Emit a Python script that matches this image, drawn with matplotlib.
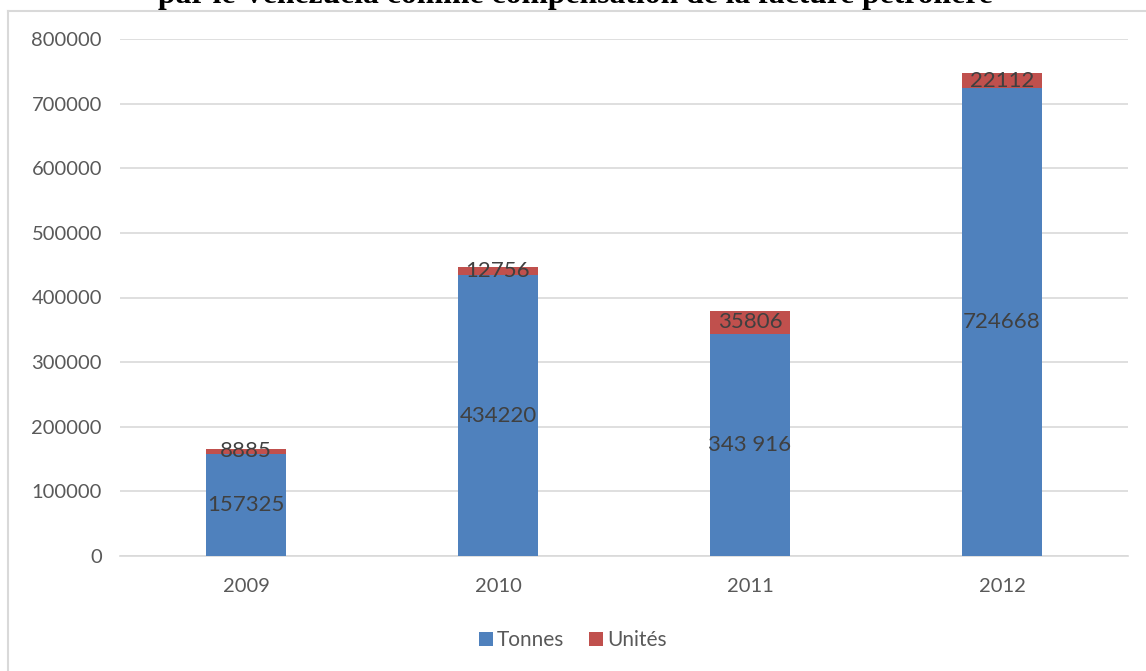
import matplotlib.pyplot as plt
from matplotlib.lines import Line2D

# Chart data
years = ["2009", "2010", "2011", "2012"]
tonnes = [157325, 434220, 343916, 724668]
unites = [8885, 12756, 35806, 22112]
tonnes_labels = ["157325", "434220", "343 916", "724668"]
unites_labels = ["8885", "12756", "35806", "22112"]

BLUE = "#4F81BD"
RED = "#C0504D"
GRID = "#D9D9D9"
TEXT = "#595959"
LABEL = "#404040"

plt.rcParams['font.family'] = ['Lato', 'DejaVu Sans']

fig = plt.figure(figsize=(11.46, 6.71), dpi=100)
ax = fig.add_axes([120 / 1146, 1 - 556 / 671, 1008 / 1146, (556 - 39) / 671])

x = range(len(years))
width = 0.317
b1 = ax.bar(x, tonnes, width, color=BLUE, label="Tonnes", zorder=3)
b2 = ax.bar(x, unites, width, bottom=tonnes, color=RED, label="Unités", zorder=3)

ax.bar_label(b1, labels=tonnes_labels, label_type="center", color=LABEL, fontsize=16)
ax.bar_label(b2, labels=unites_labels, label_type="center", color=LABEL, fontsize=16)

ax.set_xlim(-0.5, 3.5)
ax.set_ylim(0, 800000)
ax.set_yticks(range(0, 800001, 100000))
ax.set_xticks(list(x))
ax.set_xticklabels(years)
ax.yaxis.grid(True, color=GRID, linewidth=1.2, zorder=0)
ax.set_axisbelow(True)
for side in ["top", "right", "left"]:
    ax.spines[side].set_visible(False)
ax.spines["bottom"].set_color(GRID)
ax.spines["bottom"].set_linewidth(1.2)
ax.tick_params(axis="both", length=0, colors=TEXT, labelsize=14.5)
ax.tick_params(axis="y", pad=13)
ax.tick_params(axis="x", pad=16)

fig.legend(handles=[b1, b2], loc="center", bbox_to_anchor=(0.5, 1 - 640 / 671),
           ncol=2, frameon=False, fontsize=15, handlelength=0.65, handleheight=0.65,
           handletextpad=0.2, columnspacing=1.2, labelcolor=TEXT)

# outer frame (only top and left edges remain)
fx = 8 / 1146
fy = 1 - 10.5 / 671
fig.add_artist(Line2D([fx, 1], [fy, fy], color=GRID, linewidth=1.5, transform=fig.transFigure))
fig.add_artist(Line2D([fx, fx], [0, fy], color=GRID, linewidth=1.5, transform=fig.transFigure))

# title, partly cut by the top edge
fig.text((158 + 993) / 2 / 1146, 1 - 3.5 / 671,
         "par le Venezuela comme compensation de la facture pétrolière",
         ha="center", va="baseline", fontsize=22.8, fontweight="bold",
         family="Liberation Serif", color="black")

fig.savefig("out.png", dpi=100)
